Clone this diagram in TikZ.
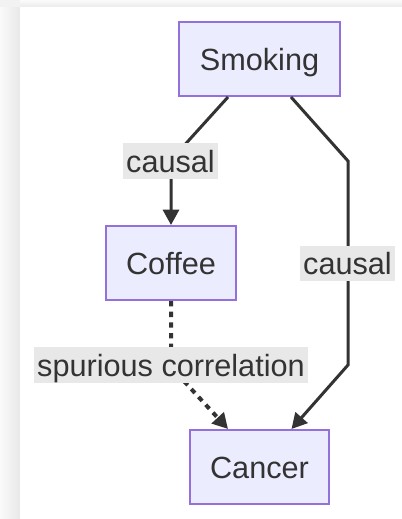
\documentclass[tikz,border=0pt]{standalone}
\usepackage{fontspec}
\setmainfont{Liberation Sans}
\usepackage{xcolor}
\usepackage{tikz}
\usetikzlibrary{arrows.meta}
\definecolor{boxfill}{HTML}{ECECFF}
\definecolor{boxline}{HTML}{9370DB}
\definecolor{ink}{HTML}{333333}
\definecolor{labelfill}{HTML}{E8E8E8}
\begin{document}
\begin{tikzpicture}
    [
    x=0.75pt, y=-0.75pt
    , box/.style = {draw=boxline,fill=boxfill,line width=1.5pt,inner xsep=2pt,minimum height=55.5pt,text=ink,text height=0.92em,text depth=0.2em}
    , edgelabel/.style = {fill=labelfill,inner xsep=2.5pt,inner ysep=0.5pt,minimum height=26pt,text=ink,text height=0.92em,text depth=0.2em}
    , link/.style = {draw=ink,line width=2.25pt,line join=miter}
    , tip/.style = {-{Triangle[length=11.5pt,width=12pt]}}
    ]
\fontsize{23}{27}\selectfont
\useasboundingbox (0,0) rectangle (402,519);
\fill[black!5] (0,0) rectangle (402,519);
\shade[left color=black!2,right color=black!9] (0,7) rectangle (20,519);
\shade[top color=black!2,bottom color=black!8] (20,0) rectangle (402,7);
\fill[white] (20,7) rectangle (402,519);

\node[box,minimum width=120.75pt] (smoking) at (259.5,59) {Smoking};
\node[box,minimum width=97.5pt] (coffee) at (171,263) {Coffee};
\node[box,minimum width=104.25pt] (cancer) at (259.5,467) {Cancer};

\coordinate (bendleft) at (171,160);
\coordinate (bendtop) at (348,161);
\coordinate (bendlow) at (348,365);
\coordinate (benddot) at (171,367);

\draw[link,tip] ([xshift=-23.6pt]smoking.south) -- (bendleft) -- (coffee.north);
\draw[link,tip] ([xshift=23.6pt]smoking.south) -- (bendtop) -- (bendlow) -- ([xshift=24pt]cancer.north);
\draw[link,tip,line width=3pt,dash pattern=on 4pt off 4pt] (coffee.south) -- (benddot) -- ([xshift=-23.6pt]cancer.north);

\node[edgelabel] (causalleft) at (170.5,161) {causal};
\node[edgelabel] (causalright) at (347.5,263.5) {causal};
\node[edgelabel] (spurious) at (171,365) {spurious correlation};
\end{tikzpicture}
\end{document}
